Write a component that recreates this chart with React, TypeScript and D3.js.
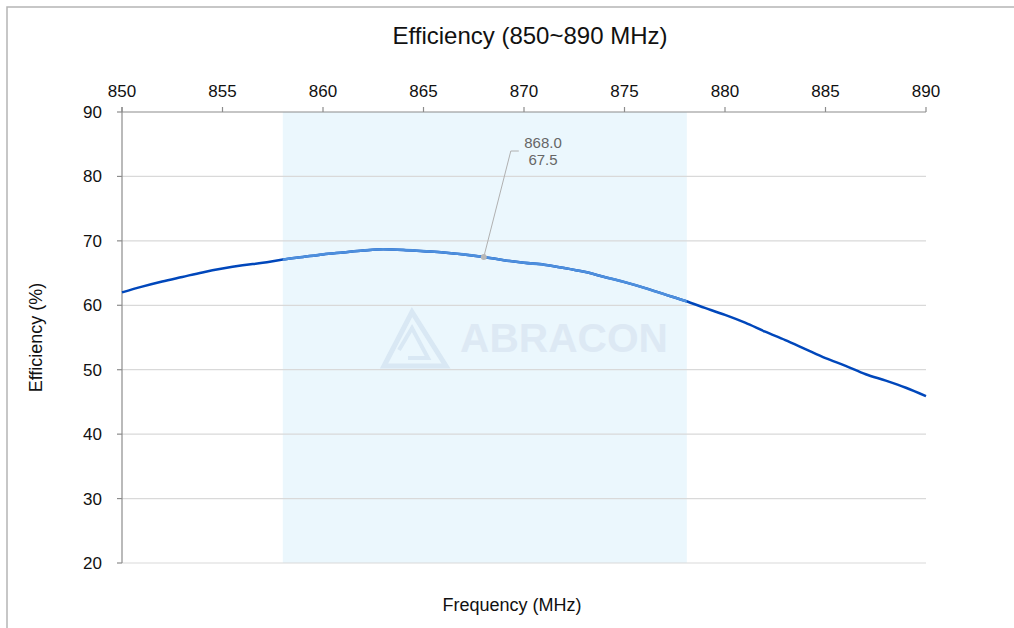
import React from "react";
import * as d3 from "d3";

const freqs = [850,851,852,853,854,855,856,857,858,859,860,861,862,863,864,865,866,867,868,869,870,871,872,873,874,875,876,877,878,879,880,881,882,883,884,885,886,887,888,889,890];
const effValues = [62.0,62.9,63.7,64.4,65.1,65.7,66.2,66.6,67.1,67.5,67.9,68.2,68.5,68.7,68.6,68.4,68.2,67.9,67.5,67.0,66.6,66.3,65.8,65.2,64.4,63.6,62.7,61.7,60.7,59.6,58.5,57.3,55.9,54.6,53.2,51.8,50.6,49.3,48.3,47.2,45.9];
const xTicks = [850,855,860,865,870,875,880,885,890];
const yTicks = [20,30,40,50,60,70,80,90];
const band = [858, 878.1];
const annotation = { f: 868.0, v: 67.5 };

export default function App() {
  const W = 1014, H = 628;
  const x = d3.scaleLinear().domain([850, 890]).range([122, 926]);
  const y = d3.scaleLinear().domain([20, 90]).range([563, 112]);
  const pts: [number, number][] = freqs.map((f, i) => [f, effValues[i]]);
  const line = d3.line<[number, number]>().x(d => x(d[0])).y(d => y(d[1])).curve(d3.curveMonotoneX);
  const path = line(pts) || "";
  const ax = x(annotation.f), ay = y(annotation.v);
  const font = "Arial, 'Liberation Sans', sans-serif";
  return (
    <svg width={W} height={H} style={{ position: "absolute", left: 0, top: 0 }} fontFamily={font}>
      <defs>
        <clipPath id="bandclip">
          <rect x={x(band[0])} y={0} width={x(band[1]) - x(band[0])} height={H} />
        </clipPath>
      </defs>
      <rect x={0} y={0} width={W} height={H} fill="#fff" />
      <rect x={7} y={7} width={W + 20} height={H + 20} fill="none" stroke="#b5b5b5" strokeWidth={1.5} />
      <text x={530} y={44} textAnchor="middle" fontSize={24} fill="#111">Efficiency (850~890 MHz)</text>
      <rect x={x(band[0])} y={y(90)} width={x(band[1]) - x(band[0])} height={y(20) - y(90)} fill="#ebf7fd" />
      {/* watermark */}
      <g>
        <path d={`M 384 366 L 412 312 L 446 366 Z`} fill="none" stroke="#d9e8f4" strokeWidth={5} />
        <path d={`M 399 350 L 412 328 L 428 358 L 408 358`} fill="none" stroke="#d9e8f4" strokeWidth={4} />
        <text x={460} y={352} fontSize={41} fontWeight="bold" fill="#dde9f4" textLength={208} lengthAdjust="spacingAndGlyphs">ABRACON</text>
      </g>
      {yTicks.filter(t => t !== 90).map(t => (
        <line key={t} x1={x(850)} x2={x(890)} y1={y(t)} y2={y(t)} stroke="#d9d9d9" strokeWidth={1.2} />
      ))}
      {/* top axis */}
      <line x1={x(850)} x2={x(890)} y1={y(90)} y2={y(90)} stroke="#8c8c8c" strokeWidth={1.2} />
      {xTicks.map(t => (
        <g key={t}>
          <line x1={x(t)} x2={x(t)} y1={y(90) - 5} y2={y(90)} stroke="#8c8c8c" strokeWidth={1.2} />
          <text x={x(t)} y={97} textAnchor="middle" fontSize={17} fill="#111">{t}</text>
        </g>
      ))}
      {/* left axis */}
      <line x1={x(850)} x2={x(850)} y1={y(90) - 5} y2={y(20)} stroke="#8c8c8c" strokeWidth={1.2} />
      {yTicks.map(t => (
        <g key={t}>
          <line x1={x(850) - 5} x2={x(850)} y1={y(t)} y2={y(t)} stroke="#8c8c8c" strokeWidth={1.2} />
          <text x={102} y={y(t) + 6} textAnchor="end" fontSize={17} fill="#111">{t}</text>
        </g>
      ))}
      <text transform={`translate(42,${y(55)}) rotate(-90)`} textAnchor="middle" fontSize={18} fill="#111">Efficiency (%)</text>
      <text x={512} y={611} textAnchor="middle" fontSize={18} fill="#111">Frequency (MHz)</text>
      <path d={path} fill="none" stroke="#0047bb" strokeWidth={2.5} />
      <path d={path} fill="none" stroke="#4d8fdd" strokeWidth={2.6} clipPath="url(#bandclip)" />
      {/* annotation */}
      <polyline points={`${ax},${ay} ${ax + 27},${151} ${ax + 35},${151}`} fill="none" stroke="#b0b0b0" strokeWidth={1} />
      <circle cx={ax} cy={ay} r={3} fill="#b8b8b8" />
      <text x={543} y={148} textAnchor="middle" fontSize={15} fill="#666">{annotation.f.toFixed(1)}</text>
      <text x={543} y={165} textAnchor="middle" fontSize={15} fill="#666">{annotation.v.toFixed(1)}</text>
    </svg>
  );
}
